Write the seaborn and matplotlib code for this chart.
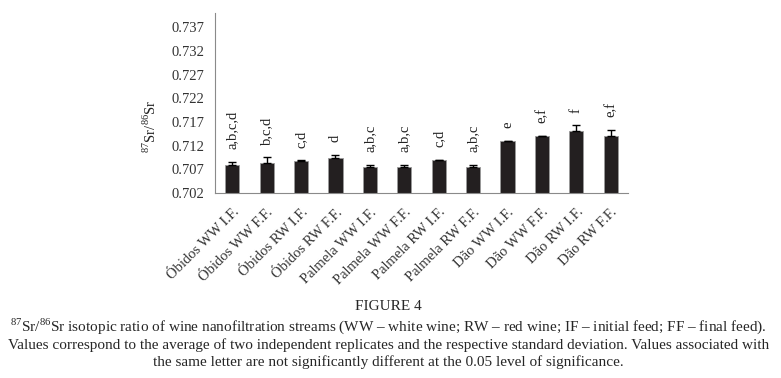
import numpy as np
import pandas as pd
import seaborn as sns
import matplotlib.pyplot as plt
import matplotlib.transforms as mtransforms

samples = ["Óbidos WW I.F.", "Óbidos WW F.F.", "Óbidos RW I.F.", "Óbidos RW F.F.",
           "Palmela WW I.F.", "Palmela WW F.F.", "Palmela RW I.F.", "Palmela RW F.F.",
           "Dão WW I.F.", "Dão WW F.F.", "Dão RW I.F.", "Dão RW F.F."]
ratio = [0.7079, 0.7084, 0.7088, 0.7094, 0.7074, 0.7074,
         0.7089, 0.7074, 0.7129, 0.7140, 0.7151, 0.7140]
sd = [0.0007, 0.0011, 0.0001, 0.0007, 0.0006, 0.0006,
      0.0001, 0.0006, 0.0001, 0.0001, 0.0012, 0.0014]
letters = ["a,b,c,d", "b,c,d", "c,d", "d", "a,b,c", "a,b,c",
           "c,d", "a,b,c", "e", "e,f", "f", "e,f"]
yticks = [0.702, 0.707, 0.712, 0.717, 0.722, 0.727, 0.732, 0.737]

sns.set_style("white")
plt.rcParams["font.family"] = ["Liberation Serif", "DejaVu Serif"]
plt.rcParams["mathtext.fontset"] = "custom"
plt.rcParams["mathtext.rm"] = "Liberation Serif"

df = pd.DataFrame({"sample": samples, "ratio": ratio})

fig = plt.figure(figsize=(7.81, 3.78), dpi=100)
ax = fig.add_axes([0.2753, 0.4894, 0.5288, 0.4762])

sns.barplot(data=df, x="sample", y="ratio", color="#231f20", width=0.41,
            edgecolor="#9a9a9a", linewidth=0.6, saturation=1, errorbar=None, ax=ax)
ax.errorbar(np.arange(len(samples)), ratio, yerr=[np.zeros(len(sd)), sd],
            fmt="none", ecolor="black", elinewidth=1, capsize=3, capthick=1)

for i, (v, e, t) in enumerate(zip(ratio, sd, letters)):
    ax.annotate(t, (i, v + e), xytext=(0, 9), textcoords="offset points",
                rotation=90, ha="center", va="bottom", fontsize=10.5, color="#222222")

ax.set_ylim(0.702, 0.740)
ax.set_xlim(-0.5, len(samples) - 0.5)
ax.set_yticks(yticks)
ax.set_yticklabels([f"{t:.3f}" for t in yticks], fontsize=10.5, color="#333333")
ax.set_xticks(np.arange(len(samples)))
ax.set_xticklabels(samples, rotation=45, ha="right", rotation_mode="anchor",
                   fontsize=10.5, color="#333333")
shift = mtransforms.ScaledTranslation(6 / 100, 2 / 100, fig.dpi_scale_trans)
for lbl in ax.get_xticklabels():
    lbl.set_transform(lbl.get_transform() + shift)
ax.set_xticks(np.arange(-0.5, len(samples)), minor=True)
ax.tick_params(axis="x", which="major", length=0, pad=9)
ax.tick_params(axis="x", which="minor", length=5, color="#8a8a8a", width=0.8)
ax.tick_params(axis="y", length=5, color="#8a8a8a", width=0.8, pad=3)
ax.set_xlabel("")
ax.set_ylabel("")
for s in ["top", "right"]:
    ax.spines[s].set_visible(False)
for s in ["left", "bottom"]:
    ax.spines[s].set_color("#8a8a8a")
    ax.spines[s].set_linewidth(0.8)

fig.text(0.192, 0.665, r"$^{87}$Sr/$^{86}$Sr", rotation=90, ha="center", va="center",
         fontsize=10.5, color="#222222")

fig.text(0.497, 0.188, "FIGURE 4", ha="center", va="center", fontsize=11)
fig.text(0.497, 0.137, r"$^{87}$Sr/$^{86}$Sr isotopic ratio of wine nanofiltration streams "
         "(WW – white wine; RW – red wine; IF – initial feed; FF – final feed).",
         ha="center", va="center", fontsize=11)
fig.text(0.497, 0.088, "Values correspond to the average of two independent replicates and the "
         "respective standard deviation. Values associated with",
         ha="center", va="center", fontsize=11)
fig.text(0.497, 0.042, "the same letter are not significantly different at the 0.05 level of significance.",
         ha="center", va="center", fontsize=11)

fig.savefig("out.png", dpi=100)
